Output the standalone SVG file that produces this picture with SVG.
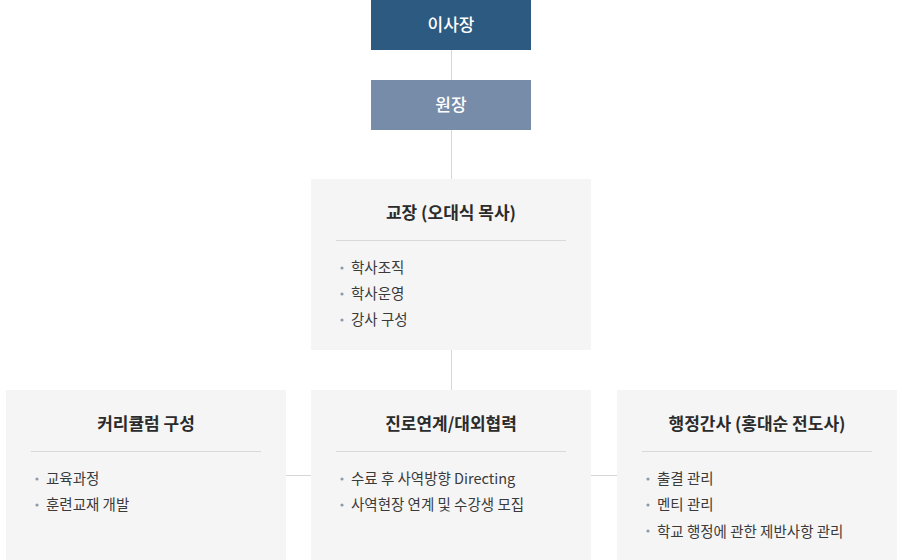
<svg xmlns="http://www.w3.org/2000/svg" width="902" height="560" viewBox="0 0 902 560">
<style>
text{font-family:"Noto Sans CJK KR","Noto Sans",sans-serif}
.top{fill:#fff;font-size:17px;font-weight:500;text-anchor:middle}
.box{fill:#f5f5f5}
.title{fill:#2b2b2b;font-size:17px;font-weight:700;text-anchor:middle}
.item{fill:#3a3a3a;font-size:14.5px}
.div{stroke:#d9d9d9;stroke-width:1}
.bul{fill:#8d9bad}
.conn{stroke:#d6d6d6;stroke-width:1;fill:none}
</style>
<rect width="902" height="560" fill="#fff"/>
<g id="connectors">
<line class="conn" x1="451.5" y1="50" x2="451.5" y2="80"/>
<line class="conn" x1="451.5" y1="130" x2="451.5" y2="179"/>
<line class="conn" x1="451.5" y1="350" x2="451.5" y2="390"/>
<line class="conn" x1="286" y1="475.5" x2="311" y2="475.5"/>
<line class="conn" x1="591" y1="475.5" x2="617" y2="475.5"/>
</g>
<g id="chairman">
<rect x="371" y="0" width="160" height="50" fill="#2d5a80"/>
<text class="top" x="451" y="31">이사장</text>
</g>
<g id="director">
<rect x="371" y="80" width="160" height="50" fill="#778ca9"/>
<text class="top" x="451" y="111">원장</text>
</g>
<g id="principal">
<rect class="box" x="311" y="179" width="280" height="171"/>
<text class="title" x="451" y="219">교장 (오대식 목사)</text>
<line class="div" x1="336" y1="240.5" x2="566" y2="240.5"/>
<circle class="bul" cx="342" cy="268" r="1.6"/>
<text class="item" x="351" y="273">학사조직</text>
<circle class="bul" cx="342" cy="294" r="1.6"/>
<text class="item" x="351" y="299">학사운영</text>
<circle class="bul" cx="342" cy="320" r="1.6"/>
<text class="item" x="351" y="325">강사 구성</text>
</g>
<g id="curriculum">
<rect class="box" x="6" y="390" width="280" height="170"/>
<text class="title" x="146" y="430">커리큘럼 구성</text>
<line class="div" x1="31" y1="451.5" x2="261" y2="451.5"/>
<circle class="bul" cx="37" cy="479" r="1.6"/>
<text class="item" x="46" y="484">교육과정</text>
<circle class="bul" cx="37" cy="505" r="1.6"/>
<text class="item" x="46" y="510">훈련교재 개발</text>
</g>
<g id="career">
<rect class="box" x="311" y="390" width="280" height="170"/>
<text class="title" x="451" y="430">진로연계/대외협력</text>
<line class="div" x1="336" y1="451.5" x2="566" y2="451.5"/>
<circle class="bul" cx="342" cy="479" r="1.6"/>
<text class="item" x="351" y="484">수료 후 사역방향 Directing</text>
<circle class="bul" cx="342" cy="505" r="1.6"/>
<text class="item" x="351" y="510">사역현장 연계 및 수강생 모집</text>
</g>
<g id="admin">
<rect class="box" x="617" y="390" width="280" height="170"/>
<text class="title" x="757" y="430">행정간사 (홍대순 전도사)</text>
<line class="div" x1="642" y1="451.5" x2="872" y2="451.5"/>
<circle class="bul" cx="648" cy="479" r="1.6"/>
<text class="item" x="657" y="484">출결 관리</text>
<circle class="bul" cx="648" cy="505" r="1.6"/>
<text class="item" x="657" y="510">멘티 관리</text>
<circle class="bul" cx="648" cy="531" r="1.6"/>
<text class="item" x="657" y="537">학교 행정에 관한 제반사항 관리</text>
</g>
</svg>
